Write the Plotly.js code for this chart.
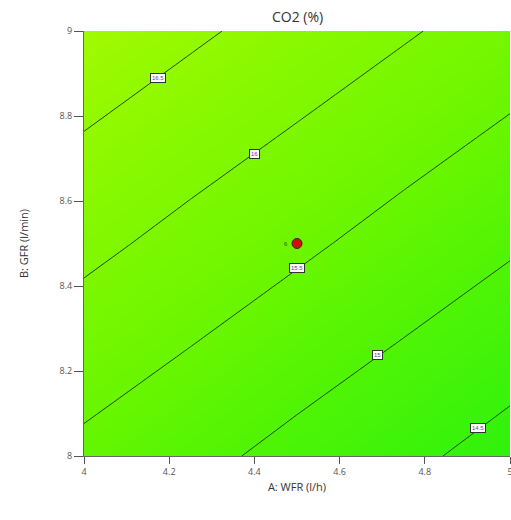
<!DOCTYPE html>
<html>
<head>
<meta charset="utf-8">
<script src="https://cdn.plot.ly/plotly-3.0.1.min.js"></script>
<style>html,body{margin:0;padding:0;background:#fff;}#chart{width:511px;height:520px;}</style>
</head>
<body>
<div id="chart"></div>
<script>
// A: WFR (l/h)
const wfr = [4, 4.25, 4.5, 4.75, 5];
// B: GFR (l/min)
const gfr = [8, 8.25, 8.5, 8.75, 9];
const co2 = [
  [15.39, 15.13, 14.86, 14.60, 14.33],
  [15.75, 15.49, 15.22, 14.96, 14.69],
  [16.12, 15.85, 15.59, 15.32, 15.06],
  [16.48, 16.21, 15.95, 15.68, 15.42],
  [16.84, 16.58, 16.31, 16.05, 15.78]
];
const contourLevels = [14.5, 15, 15.5, 16, 16.5];
const labelWfr = [4.174, 4.401, 4.5, 4.688, 4.925];
const labelGfr = [8.889, 8.711, 8.442, 8.238, 8.066];
const labelText = ['16.5', '16', '15.5', '15', '14.5'];
// design point
const designWfr = [4.5];
const designGfr = [8.5];
const designCount = ['6'];
const xTicks = [4, 4.2, 4.4, 4.6, 4.8, 5];
const yTicks = [8, 8.2, 8.4, 8.6, 8.8, 9];

const fill = {
  type: 'contour', x: wfr, y: gfr, z: co2,
  contours: {coloring: 'heatmap', showlines: false, start: 14, end: 17, size: 0.5},
  colorscale: [[0, '#12f012'], [0.5, '#68f600'], [1, '#b2fb00']],
  showscale: false, hoverinfo: 'skip', line: {width: 0}
};
const lines = {
  type: 'contour', x: wfr, y: gfr, z: co2,
  autocontour: false,
  contours: {coloring: 'none', start: contourLevels[0], end: contourLevels[contourLevels.length - 1], size: 0.5},
  line: {color: '#1f4a10', width: 1, smoothing: 0},
  showscale: false, hoverinfo: 'skip'
};
const pt = {
  type: 'scatter', mode: 'markers', x: designWfr, y: designGfr,
  marker: {color: '#cc1010', size: 10, line: {color: '#5a1010', width: 1}},
  hoverinfo: 'skip'
};
const annotations = labelText.map((t, i) => ({
  x: labelWfr[i], y: labelGfr[i], xref: 'x', yref: 'y', text: t, showarrow: false,
  font: {family: 'Liberation Sans, Arial', size: 6, color: '#6a3a9a'},
  bgcolor: '#ffffff', bordercolor: '#333333', borderwidth: 1, borderpad: 1
}));
annotations.push({
  x: designWfr[0], y: designGfr[0], xref: 'x', yref: 'y', text: designCount[0], showarrow: false,
  xshift: -11, font: {family: 'Liberation Sans, Arial', size: 6, color: '#2a5a20'}
});
annotations.push({
  x: 0.5, y: 1, xref: 'paper', yref: 'paper', yanchor: 'bottom', yshift: 3, showarrow: false,
  text: 'CO2 (%)', font: {family: 'Open Sans, Arial', size: 14, color: '#333333'}
});
const layout = {
  width: 511, height: 520,
  margin: {l: 84, r: 1, t: 31, b: 64},
  paper_bgcolor: '#ffffff', plot_bgcolor: '#ffffff',
  showlegend: false,
  annotations: annotations,
  xaxis: {
    range: [4, 5], tickvals: xTicks, ticktext: xTicks.map(String),
    ticks: 'outside', ticklen: 7, tickcolor: '#555', showgrid: false, zeroline: false,
    showline: true, linecolor: '#666', linewidth: 1, ticklabeloverflow: 'allow',
    tickfont: {family: 'Open Sans, Arial', size: 9, color: '#555'},
    title: {text: 'A: WFR (l/h)', font: {family: 'Open Sans, Arial', size: 11, color: '#333'}, standoff: 6}
  },
  yaxis: {
    range: [8, 9], tickvals: yTicks, ticktext: yTicks.map(String),
    ticks: 'outside', ticklen: 9, tickcolor: '#555', showgrid: false, zeroline: false,
    showline: true, linecolor: '#666', linewidth: 1,
    tickfont: {family: 'Open Sans, Arial', size: 9, color: '#555'},
    title: {text: 'B: GFR (l/min)', font: {family: 'Open Sans, Arial', size: 11, color: '#333'}, standoff: 28}
  }
};
Plotly.newPlot('chart', [fill, lines, pt], layout, {displayModeBar: false, staticPlot: true});
</script>
</body>
</html>
